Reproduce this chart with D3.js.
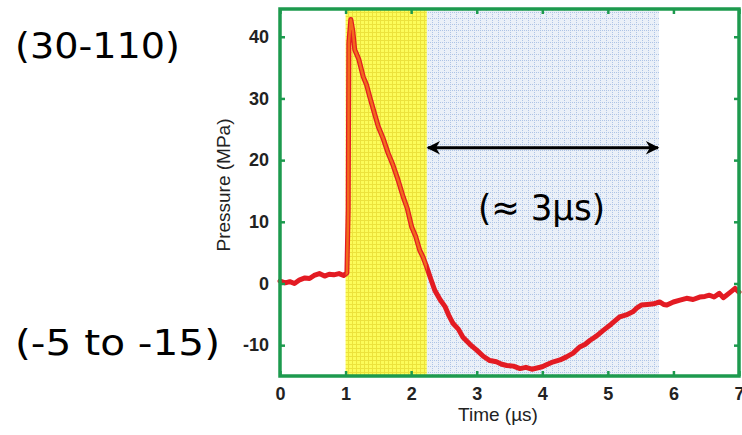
<!DOCTYPE html>
<html>
<head>
<meta charset="utf-8">
<script src="https://cdn.jsdelivr.net/npm/d3@7"></script>
<style>
  body { margin: 0; background: #fff; }
  svg { display: block; }
  .tick text { font-family: "Liberation Sans", Arial, sans-serif; font-weight: bold; font-size: 18px; fill: #222; }
  .axis-label { font-family: "Liberation Sans", Arial, sans-serif; font-size: 19px; fill: #222; }
  .note { font-family: "DejaVu Sans", "Noto Sans", sans-serif; font-size: 36px; fill: #000; }
</style>
</head>
<body>
<svg id="chart" width="742" height="435"></svg>
<script>
"use strict";

// pressure trace
const time = [0, 0.08, 0.15, 0.22, 0.3, 0.38, 0.45, 0.52, 0.6, 0.68, 0.75, 0.82, 0.9, 0.97, 1.02,
  1.04, 1.05, 1.08, 1.11, 1.14, 1.2, 1.27, 1.32, 1.37, 1.44, 1.5, 1.57, 1.65, 1.72, 1.8, 1.88, 1.94, 2.01, 2.07, 2.13, 2.18, 2.24,
  2.29, 2.36, 2.44, 2.52, 2.58, 2.64, 2.72, 2.79, 2.9, 3.0, 3.1, 3.2, 3.3, 3.38, 3.46, 3.56, 3.66, 3.75, 3.84, 3.92, 4.0, 4.08, 4.17,
  4.27, 4.37, 4.47, 4.57, 4.65, 4.73, 4.83, 4.93, 5.05, 5.18, 5.28, 5.38, 5.45, 5.51, 5.6, 5.7, 5.79, 5.85, 5.9, 6.0, 6.1, 6.2, 6.3,
  6.4, 6.48, 6.55, 6.62, 6.7, 6.76, 6.81, 6.87, 6.94, 7.0];
const pressure = [0.4, 0.1, 0.3, 0.0, 0.6, 0.9, 0.8, 1.3, 1.6, 1.2, 1.5, 1.4, 1.6, 1.3, 1.7,
  12, 39, 42.8, 41, 37.9, 36.4, 33.5, 32.2, 30.2, 27.6, 25.4, 23.6, 21.1, 19.3, 16.8, 14.0, 12.2, 9.1, 7.6, 5.4, 4.3, 2.6,
  1.0, -1.1, -2.6, -3.8, -5.3, -6.5, -7.4, -8.7, -9.9, -10.8, -11.8, -12.5, -12.7, -13.1, -13.3, -13.4, -13.8, -13.6, -13.9, -13.7, -13.5, -13.1, -12.7,
  -12.4, -11.9, -11.3, -10.3, -9.9, -9.2, -8.5, -7.6, -6.6, -5.4, -5.1, -4.6, -3.9, -3.5, -3.4, -3.3, -3.0, -3.4, -3.5, -3.0, -2.7, -2.4, -2.6,
  -2.2, -2.1, -1.9, -2.2, -1.6, -2.3, -1.9, -1.4, -0.8, -1.4];

const xTicks = [0, 1, 2, 3, 4, 5, 6, 7];
const yTicks = [-10, 0, 10, 20, 30, 40];
const riseBand = [1.0, 2.24];      // yellow: positive phase
const tensionBand = [2.24, 5.78];  // blue: tensile phase
const labels = { x: "Time (\u00b5s)", y: "Pressure (MPa)" };
const notes = ["(30-110)", "(-5 to -15)", "(\u2248 3\u00b5s)"];

const svg = d3.select("#chart");
const margin = { left: 280, right: 3, top: 9, bottom: 59 };
const width = 742 - margin.left - margin.right;
const height = 435 - margin.top - margin.bottom;

const x = d3.scaleLinear().domain([0, 7]).range([margin.left, margin.left + width]);
const y = d3.scaleLinear().domain([-15, 44.5]).range([margin.top + height, margin.top]);

const defs = svg.append("defs");
const yellowPat = defs.append("pattern").attr("id", "yellowGrid")
  .attr("patternUnits", "userSpaceOnUse").attr("width", 4).attr("height", 4);
yellowPat.append("rect").attr("width", 4).attr("height", 4).attr("fill", "#fcfc5a");
yellowPat.append("path").attr("d", "M0,0.5H4M0.5,0V4").attr("stroke", "#ece23c").attr("stroke-width", 1);

const bluePat = defs.append("pattern").attr("id", "blueGrid")
  .attr("patternUnits", "userSpaceOnUse").attr("width", 6).attr("height", 6);
bluePat.append("rect").attr("width", 6).attr("height", 6).attr("fill", "#eaf0f8");
bluePat.append("path").attr("d", "M0,0.5H6M0.5,0V6").attr("stroke", "#aec4e6").attr("stroke-width", 1)
  .attr("stroke-dasharray", "1,1");

defs.append("clipPath").attr("id", "yellowClip").append("rect")
  .attr("x", x(riseBand[0])).attr("y", y.range()[1])
  .attr("width", x(riseBand[1]) - x(riseBand[0])).attr("height", height);

svg.append("rect")
  .attr("x", x(riseBand[0])).attr("y", margin.top)
  .attr("width", x(riseBand[1]) - x(riseBand[0])).attr("height", height)
  .attr("fill", "url(#yellowGrid)");
svg.append("rect")
  .attr("x", x(tensionBand[0])).attr("y", margin.top)
  .attr("width", x(tensionBand[1]) - x(tensionBand[0])).attr("height", height)
  .attr("fill", "url(#blueGrid)");

// pressure curve
const pts = time.map((t, i) => [t, pressure[i]]);
const line = d3.line().x(d => x(d[0])).y(d => y(d[1])).curve(d3.curveLinear);
svg.append("path").datum(pts).attr("d", line)
  .attr("fill", "none").attr("stroke", "#e31b23").attr("stroke-width", 5)
  .attr("stroke-linejoin", "round").attr("stroke-linecap", "round");
svg.append("path").datum(pts).attr("d", line)
  .attr("clip-path", "url(#yellowClip)")
  .attr("fill", "none").attr("stroke", "#f26a1b").attr("stroke-width", 2.5)
  .attr("stroke-linejoin", "round");

// axes, green frame with inward ticks
const green = "#1d9a4e";
const fmt = d => String(d); // plain hyphen minus, as in the original
const axisBottom = d3.axisBottom(x).tickValues(xTicks).tickSize(-5).tickPadding(11).tickFormat(fmt);
const axisTop = d3.axisTop(x).tickValues(xTicks).tickSize(-5).tickFormat("");
const axisLeft = d3.axisLeft(y).tickValues(yTicks).tickSize(-5).tickPadding(11).tickFormat(fmt);
const axisRight = d3.axisRight(y).tickValues(yTicks).tickSize(-5).tickFormat("");

const gB = svg.append("g").attr("transform", `translate(0,${margin.top + height})`).call(axisBottom);
const gT = svg.append("g").attr("transform", `translate(0,${margin.top})`).call(axisTop);
const gL = svg.append("g").attr("transform", `translate(${margin.left},0)`).call(axisLeft);
const gR = svg.append("g").attr("transform", `translate(${margin.left + width},0)`).call(axisRight);
[gB, gT, gL, gR].forEach(g => {
  g.select(".domain").remove();
  g.selectAll(".tick line").attr("stroke", green).attr("stroke-width", 2.5);
});

svg.append("rect")
  .attr("x", margin.left).attr("y", margin.top)
  .attr("width", width).attr("height", height)
  .attr("fill", "none").attr("stroke", green).attr("stroke-width", 3.5);

svg.append("text").attr("class", "axis-label")
  .attr("x", 498).attr("y", 421).attr("text-anchor", "middle")
  .text(labels.x);
svg.append("text").attr("class", "axis-label")
  .attr("transform", `translate(230,185) rotate(-90)`).attr("text-anchor", "middle")
  .text(labels.y);

// duration arrow across the tensile phase
const marker = defs.append("marker").attr("id", "head")
  .attr("viewBox", "0 0 10 10").attr("refX", 9).attr("refY", 5)
  .attr("markerWidth", 5).attr("markerHeight", 4.5).attr("orient", "auto-start-reverse")
  .attr("markerUnits", "strokeWidth");
marker.append("path").attr("d", "M0,0L10,5L0,10L3,5Z").attr("fill", "#000");
svg.append("line")
  .attr("x1", x(tensionBand[0]) + 1).attr("x2", x(tensionBand[1]) - 1)
  .attr("y1", y(22)).attr("y2", y(22))
  .attr("stroke", "#000").attr("stroke-width", 3)
  .attr("marker-start", "url(#head)").attr("marker-end", "url(#head)");

svg.append("text").attr("class", "note").attr("x", 15).attr("y", 58)
  .attr("textLength", 165).attr("lengthAdjust", "spacingAndGlyphs").text(notes[0]);
svg.append("text").attr("class", "note").attr("x", 15).attr("y", 355)
  .attr("textLength", 205).attr("lengthAdjust", "spacingAndGlyphs").text(notes[1]);
svg.append("text").attr("class", "note").attr("x", 478).attr("y", 220)
  .attr("textLength", 127).attr("lengthAdjust", "spacingAndGlyphs").text(notes[2]);
</script>
</body>
</html>
